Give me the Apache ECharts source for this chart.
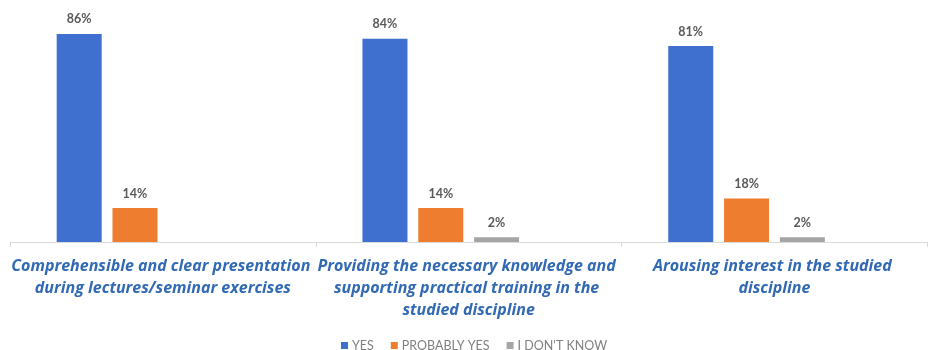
<!DOCTYPE html>
<html>
<head>
<meta charset="utf-8">
<script src="https://cdn.jsdelivr.net/npm/echarts@6/dist/echarts.min.js"></script>
<style>
  html, body { margin: 0; padding: 0; background: #fff; }
  #chart { width: 930px; height: 350px; }
</style>
</head>
<body>
<div id="chart"></div>
<script>
// Survey answers per teaching aspect, in percent
const categories = [
  'Comprehensible and clear presentation during lectures/seminar exercises',
  'Providing the necessary knowledge and supporting practical training in the studied discipline',
  'Arousing interest in the studied discipline'
];
const seriesNames = ['YES', 'PROBABLY YES', "I DON'T KNOW"];
const yesValues = [86, 84, 81];
const probablyYesValues = [14, 14, 18];
const dontKnowValues = [0, 2, 2];
const seriesColors = ['#3F70D0', '#EE7D2F', '#A5A5A5'];

const chart = echarts.init(document.getElementById('chart'), null, { renderer: 'canvas' });

const valueLabel = {
  show: true,
  position: 'top',
  distance: 8,
  fontFamily: 'Lato',
  fontWeight: 'bold',
  fontSize: 12.5,
  color: '#595959',
  formatter: p => (p.value > 0 ? p.value + '%' : '')
};

function barSeries(name, data, color) {
  return {
    name: name,
    type: 'bar',
    data: data,
    barWidth: 45,
    barGap: '24%',
    itemStyle: { color: color },
    label: valueLabel
  };
}

const option = {
  animation: false,
  grid: { left: 10, right: 0, top: 0, bottom: 108, containLabel: false },
  legend: {
    data: seriesNames,
    top: 334,
    left: 336,
    icon: 'rect',
    itemWidth: 7,
    itemHeight: 7,
    itemGap: 17,
    textStyle: { fontFamily: 'Lato', fontSize: 12.5, color: '#808080', padding: [0, 0, 0, -1] }
  },
  xAxis: {
    type: 'category',
    data: categories,
    axisLine: { lineStyle: { color: '#d9d9d9', width: 1 } },
    axisTick: { show: true, length: 5, lineStyle: { color: '#d9d9d9' } },
    axisLabel: {
      interval: 0,
      margin: 13,
      width: 306,
      overflow: 'break',
      lineHeight: 22,
      fontFamily: 'Open Sans',
      fontStyle: 'italic',
      fontWeight: 'bold',
      fontSize: 16,
      color: '#3169B4'
    }
  },
  yAxis: {
    type: 'value',
    min: 0,
    max: 100,
    show: false,
    splitLine: { show: false }
  },
  series: [
    barSeries(seriesNames[0], yesValues, seriesColors[0]),
    barSeries(seriesNames[1], probablyYesValues, seriesColors[1]),
    barSeries(seriesNames[2], dontKnowValues, seriesColors[2]),
    // empty fourth slot keeps the bar clusters left of each category centre
    { type: 'bar', data: [], barWidth: 45, barGap: '24%', silent: true }
  ]
};

chart.setOption(option);
</script>
</body>
</html>
